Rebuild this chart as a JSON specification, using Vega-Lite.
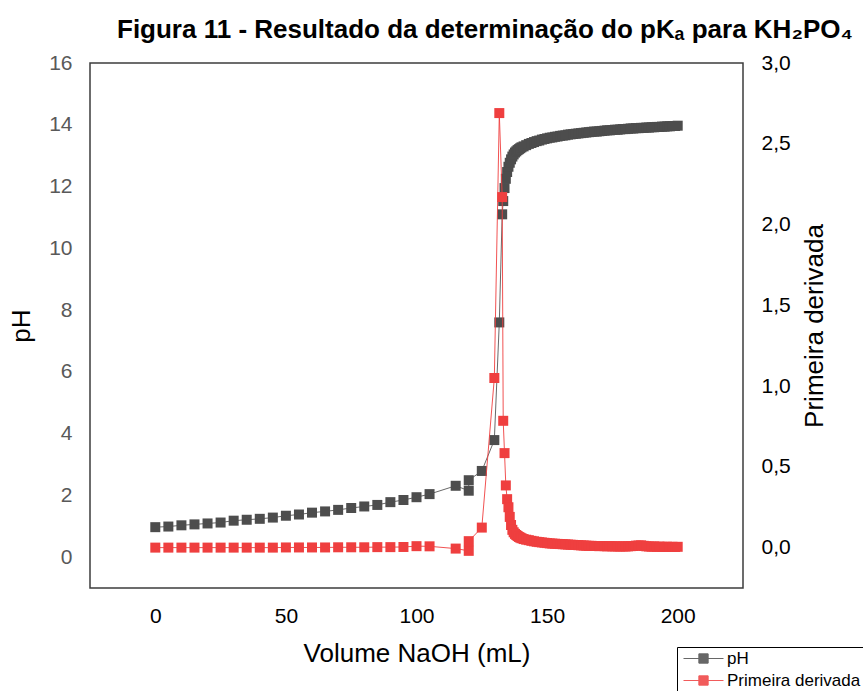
{
  "$schema": "https://vega.github.io/schema/vega-lite/v6.json",
  "width": 653,
  "height": 525,
  "autosize": {"type": "none"},
  "padding": {"left": 90, "top": 63, "right": 120, "bottom": 103},
  "background": "white",
  "config": {
    "font": "Liberation Sans",
    "view": {"stroke": "#3c3c3c", "strokeWidth": 1.5},
    "axis": {"grid": false, "ticks": false, "domain": false, "labelFont": "Liberation Sans", "titleFont": "Liberation Sans", "titleFontWeight": "normal", "titleColor": "#000"}
  },
  "title": {
    "text": "Figura 11 - Resultado da determinação do pKₐ para KH₂PO₄",
    "font": "Liberation Sans",
    "fontSize": 26,
    "fontWeight": "bold",
    "color": "#000",
    "anchor": "start",
    "frame": "group",
    "dx": 27,
    "offset": 9
  },
  "data": {
    "values": [
      {"v": 0, "p": 0.97, "d": 0.0},
      {"v": 5, "p": 0.99, "d": 0.0},
      {"v": 10, "p": 1.03, "d": 0.0},
      {"v": 15, "p": 1.06, "d": 0.0},
      {"v": 20, "p": 1.09, "d": 0.0},
      {"v": 25, "p": 1.12, "d": 0.0},
      {"v": 30, "p": 1.18, "d": 0.0},
      {"v": 35, "p": 1.21, "d": 0.0},
      {"v": 40, "p": 1.24, "d": 0.0},
      {"v": 45, "p": 1.28, "d": 0.0},
      {"v": 50, "p": 1.34, "d": 0.001},
      {"v": 55, "p": 1.38, "d": 0.001},
      {"v": 60, "p": 1.44, "d": 0.001},
      {"v": 65, "p": 1.48, "d": 0.001},
      {"v": 70, "p": 1.53, "d": 0.002},
      {"v": 75, "p": 1.59, "d": 0.002},
      {"v": 80, "p": 1.64, "d": 0.002},
      {"v": 85, "p": 1.69, "d": 0.003},
      {"v": 90, "p": 1.78, "d": 0.003},
      {"v": 95, "p": 1.85, "d": 0.004},
      {"v": 100, "p": 1.94, "d": 0.009},
      {"v": 105, "p": 2.04, "d": 0.008},
      {"v": 115, "p": 2.31, "d": -0.006},
      {"v": 120, "p": 2.15, "d": -0.02},
      {"v": 120, "p": 2.49, "d": 0.04},
      {"v": 125, "p": 2.79, "d": 0.124},
      {"v": 129.8, "p": 3.79, "d": 1.05},
      {"v": 131.7, "p": 7.6, "d": 2.69},
      {"v": 132.8, "p": 11.1, "d": 2.17},
      {"v": 133.2, "p": 11.53, "d": 0.785},
      {"v": 133.7, "p": 11.95, "d": 0.585},
      {"v": 134.2, "p": 12.25, "d": 0.385},
      {"v": 134.7, "p": 12.47, "d": 0.3},
      {"v": 135.2, "p": 12.64, "d": 0.25},
      {"v": 135.7, "p": 12.77, "d": 0.19},
      {"v": 136.2, "p": 12.88, "d": 0.14},
      {"v": 136.7, "p": 12.97, "d": 0.11},
      {"v": 137.2, "p": 13.04, "d": 0.095},
      {"v": 137.7, "p": 13.1, "d": 0.085},
      {"v": 138.2, "p": 13.14, "d": 0.078},
      {"v": 138.7, "p": 13.18, "d": 0.072},
      {"v": 139.2, "p": 13.21, "d": 0.066},
      {"v": 139.7, "p": 13.24, "d": 0.062},
      {"v": 140.2, "p": 13.27, "d": 0.058},
      {"v": 141, "p": 13.3, "d": 0.053},
      {"v": 142, "p": 13.34, "d": 0.049},
      {"v": 143, "p": 13.38, "d": 0.046},
      {"v": 144, "p": 13.41, "d": 0.042},
      {"v": 145, "p": 13.44, "d": 0.039},
      {"v": 146, "p": 13.47, "d": 0.036},
      {"v": 147, "p": 13.49, "d": 0.034},
      {"v": 148, "p": 13.52, "d": 0.032},
      {"v": 149, "p": 13.54, "d": 0.03},
      {"v": 150, "p": 13.56, "d": 0.028},
      {"v": 151, "p": 13.58, "d": 0.026},
      {"v": 152, "p": 13.59, "d": 0.025},
      {"v": 153, "p": 13.61, "d": 0.024},
      {"v": 154, "p": 13.62, "d": 0.023},
      {"v": 155, "p": 13.64, "d": 0.022},
      {"v": 156, "p": 13.65, "d": 0.021},
      {"v": 157, "p": 13.66, "d": 0.02},
      {"v": 158, "p": 13.68, "d": 0.019},
      {"v": 159, "p": 13.69, "d": 0.018},
      {"v": 160, "p": 13.7, "d": 0.017},
      {"v": 161, "p": 13.71, "d": 0.016},
      {"v": 162, "p": 13.72, "d": 0.015},
      {"v": 163, "p": 13.73, "d": 0.014},
      {"v": 164, "p": 13.74, "d": 0.013},
      {"v": 165, "p": 13.75, "d": 0.012},
      {"v": 166, "p": 13.76, "d": 0.011},
      {"v": 167, "p": 13.77, "d": 0.011},
      {"v": 168, "p": 13.78, "d": 0.01},
      {"v": 169, "p": 13.78, "d": 0.01},
      {"v": 170, "p": 13.79, "d": 0.009},
      {"v": 171, "p": 13.8, "d": 0.01},
      {"v": 172, "p": 13.81, "d": 0.009},
      {"v": 173, "p": 13.82, "d": 0.008},
      {"v": 174, "p": 13.82, "d": 0.009},
      {"v": 175, "p": 13.83, "d": 0.008},
      {"v": 176, "p": 13.84, "d": 0.008},
      {"v": 177, "p": 13.84, "d": 0.007},
      {"v": 178, "p": 13.85, "d": 0.007},
      {"v": 179, "p": 13.86, "d": 0.008},
      {"v": 180, "p": 13.86, "d": 0.007},
      {"v": 181, "p": 13.87, "d": 0.008},
      {"v": 182, "p": 13.88, "d": 0.009},
      {"v": 183, "p": 13.88, "d": 0.01},
      {"v": 184, "p": 13.89, "d": 0.012},
      {"v": 185, "p": 13.89, "d": 0.013},
      {"v": 186, "p": 13.9, "d": 0.014},
      {"v": 187, "p": 13.9, "d": 0.011},
      {"v": 188, "p": 13.91, "d": 0.008},
      {"v": 189, "p": 13.91, "d": 0.007},
      {"v": 190, "p": 13.92, "d": 0.006},
      {"v": 191, "p": 13.92, "d": 0.007},
      {"v": 192, "p": 13.93, "d": 0.005},
      {"v": 193, "p": 13.93, "d": 0.006},
      {"v": 194, "p": 13.94, "d": 0.005},
      {"v": 195, "p": 13.94, "d": 0.004},
      {"v": 196, "p": 13.95, "d": 0.006},
      {"v": 197, "p": 13.95, "d": 0.004},
      {"v": 198, "p": 13.96, "d": 0.005},
      {"v": 199, "p": 13.96, "d": 0.004},
      {"v": 200, "p": 13.97, "d": 0.005}
    ]
  },
  "encoding": {
    "x": {
      "field": "v",
      "type": "quantitative",
      "scale": {"domain": [-25, 225], "nice": false, "zero": false},
      "axis": {
        "values": [0, 50, 100, 150, 200],
        "title": "Volume NaOH (mL)",
        "titleFontSize": 26,
        "titlePadding": 14,
        "labelFontSize": 21,
        "labelColor": "#000",
        "labelPadding": 17
      }
    },
    "color": {
      "scale": {"domain": ["pH", "Primeira derivada"], "range": ["#4d4d4d", "#ef3f3f"]},
      "legend": {
        "orient": "none",
        "legendX": 587,
        "legendY": 584,
        "title": null,
        "strokeColor": "#000",
        "fillColor": "#fff",
        "padding": 3,
        "labelFont": "Liberation Sans",
        "labelFontSize": 17,
        "labelColor": "#000",
        "labelOffset": 30,
        "rowPadding": 4,
        "symbolType": "M-1,0H7M2.07,-0.93H3.93V0.93H2.07Z",
        "symbolSize": 100,
        "symbolStrokeWidth": 1,
        "encode": {
          "symbols": {
            "update": {
              "fill": {"scale": "color", "field": "value"},
              "stroke": {"scale": "color", "field": "value"},
              "opacity": {"value": 1}
            }
          }
        }
      }
    }
  },
  "layer": [
    {
      "encoding": {
        "y": {
          "field": "p",
          "type": "quantitative",
          "scale": {"domain": [-1, 16], "nice": false, "zero": false},
          "axis": {
            "orient": "left",
            "values": [0, 2, 4, 6, 8, 10, 12, 14, 16],
            "title": "pH",
            "titleFontSize": 26,
            "titlePadding": 14,
            "labelFontSize": 21,
            "labelColor": "#595959",
            "labelPadding": 18
          }
        }
      },
      "layer": [
        {"mark": {"type": "line", "strokeWidth": 1, "opacity": 0.85}, "encoding": {"color": {"datum": "pH"}}},
        {"mark": {"type": "square", "size": 100, "opacity": 1}, "encoding": {"color": {"datum": "pH"}}}
      ]
    },
    {
      "encoding": {
        "y": {
          "field": "d",
          "type": "quantitative",
          "scale": {"domain": [-0.25, 3], "nice": false, "zero": false},
          "axis": {
            "orient": "right",
            "values": [0, 0.5, 1, 1.5, 2, 2.5, 3],
            "format": ".1f",
            "labelExpr": "replace(datum.label, '.', ',')",
            "title": "Primeira derivada",
            "titleAngle": 270,
            "titleFontSize": 26,
            "titlePadding": 37,
            "labelFontSize": 21,
            "labelColor": "#000",
            "labelPadding": 18
          }
        }
      },
      "layer": [
        {"mark": {"type": "line", "strokeWidth": 1, "opacity": 0.9}, "encoding": {"color": {"datum": "Primeira derivada"}}},
        {"mark": {"type": "square", "size": 100, "opacity": 1}, "encoding": {"color": {"datum": "Primeira derivada"}}}
      ]
    }
  ],
  "resolve": {"scale": {"y": "independent"}, "axis": {"y": "independent"}}
}
